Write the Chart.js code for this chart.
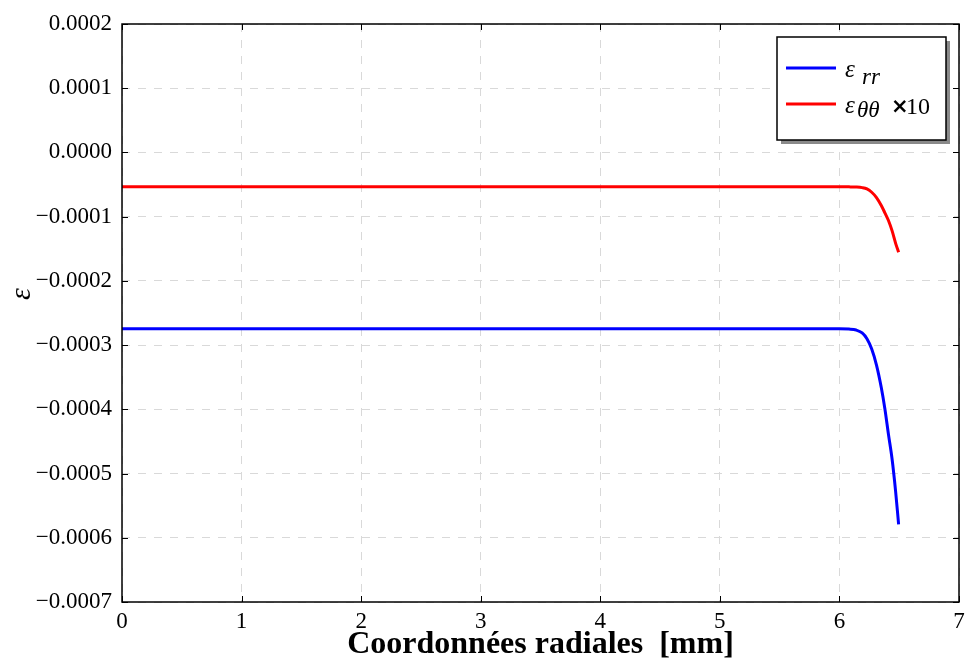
<!DOCTYPE html>
<html>
<head>
<meta charset="utf-8">
<script src="https://cdn.jsdelivr.net/npm/chart.js@4"></script>
<style>
  html, body { margin: 0; padding: 0; background: #fff; }
  #wrap { width: 965px; height: 661px; }
</style>
</head>
<body>
<div id="wrap"><canvas id="c" width="965" height="661"></canvas></div>
<script>
// ---- data ----
const radialMm = [0, 6.0, 6.08, 6.14, 6.19, 6.23, 6.27, 6.31, 6.35, 6.38, 6.41, 6.44, 6.47, 6.495];
const epsRR    = [-0.0002746, -0.0002746, -0.000275, -0.0002765, -0.000281, -0.000290, -0.000306, -0.000331, -0.000366, -0.000399, -0.000439, -0.000477, -0.000528, -0.000579];
const epsTTx10 = [-0.0000535, -0.0000535, -0.0000536, -0.0000539, -0.0000548, -0.0000568, -0.0000620, -0.0000703, -0.0000826, -0.0000940, -0.0001060, -0.0001218, -0.0001415, -0.0001553];
const xTicks = [0, 1, 2, 3, 4, 5, 6, 7];
const yTicks = [0.0002, 0.0001, 0, -0.0001, -0.0002, -0.0003, -0.0004, -0.0005, -0.0006, -0.0007];
const seriesLabels = ['rr', 'θθ'];
const xTitle = 'Coordonnées radiales  [mm]';
const yTitle = 'ε';

const SERIF = '"Liberation Serif", "Times New Roman", serif';

function fmtY(v) {
  if (Math.abs(v) < 1e-12) v = 0;
  const s = Math.abs(v).toFixed(4);
  return (v < 0 ? '\u2212' : '') + s;
}

const framePlugin = {
  id: 'frame',
  afterDatasetsDraw(chart) {
    const ctx = chart.ctx, a = chart.chartArea;
    const xs = chart.scales.x, ys = chart.scales.y;
    ctx.save();
    ctx.strokeStyle = '#000';
    ctx.lineWidth = 1.5;
    ctx.setLineDash([]);
    ctx.strokeRect(a.left, a.top, a.right - a.left, a.bottom - a.top);
    // inward ticks
    ctx.lineWidth = 1;
    const L = 6;
    ctx.beginPath();
    xTicks.forEach(v => {
      const px = Math.round(xs.getPixelForValue(v)) + 0.5;
      ctx.moveTo(px, a.bottom); ctx.lineTo(px, a.bottom - L);
      ctx.moveTo(px, a.top); ctx.lineTo(px, a.top + L);
    });
    yTicks.forEach(v => {
      const py = Math.round(ys.getPixelForValue(v)) + 0.5;
      ctx.moveTo(a.left, py); ctx.lineTo(a.left + L, py);
      ctx.moveTo(a.right, py); ctx.lineTo(a.right - L, py);
    });
    ctx.stroke();
    ctx.restore();
  },
  afterDraw(chart) {
    const ctx = chart.ctx;
    const ds = chart.data.datasets;
    ctx.save();
    // y-axis title (rotated epsilon)
    ctx.fillStyle = '#000';
    ctx.translate(22, 294);
    ctx.rotate(-Math.PI / 2);
    ctx.font = 'italic 30px ' + SERIF;
    ctx.textAlign = 'center';
    ctx.textBaseline = 'middle';
    ctx.fillText(yTitle, 0, 0);
    ctx.restore();

    ctx.save();
    const bx = 777, by = 37, bw = 169, bh = 103;
    ctx.fillStyle = '#8a8a8a';
    ctx.fillRect(bx + 4, by + 4, bw, bh);
    ctx.fillStyle = '#fff';
    ctx.fillRect(bx, by, bw, bh);
    ctx.strokeStyle = '#000';
    ctx.lineWidth = 1.5;
    ctx.strokeRect(bx, by, bw, bh);
    const rows = [68, 104];
    rows.forEach((y, i) => {
      ctx.strokeStyle = ds[i].borderColor;
      ctx.lineWidth = 3;
      ctx.beginPath();
      ctx.moveTo(786, y); ctx.lineTo(836, y);
      ctx.stroke();
      ctx.fillStyle = '#000';
      ctx.textBaseline = 'alphabetic';
      ctx.font = 'italic 25px ' + SERIF;
      ctx.fillText('ε', 845, y + 9);
      ctx.font = 'italic 23px ' + SERIF;
      ctx.fillText(seriesLabels[i], i === 0 ? 862 : 857, y + (i === 0 ? 16 : 13));
    });
    ctx.font = 'bold 21px "DejaVu Sans", sans-serif';
    ctx.fillText('×', 891, 113);
    ctx.font = '24px ' + SERIF;
    ctx.fillText('10', 906, 114);
    ctx.restore();
  }
};

const gridStyle = {
  color: '#d9d9d9',
  lineWidth: 1,
  drawTicks: false
};

new Chart(document.getElementById('c'), {
  type: 'line',
  data: {
    datasets: [
      {
        label: 'ε rr',
        data: radialMm.map((x, i) => ({ x: x, y: epsRR[i] })),
        borderColor: '#0000ff',
        borderWidth: 3,
        pointRadius: 0,
        cubicInterpolationMode: 'monotone',
        fill: false
      },
      {
        label: 'ε θθ ×10',
        data: radialMm.map((x, i) => ({ x: x, y: epsTTx10[i] })),
        borderColor: '#ff0000',
        borderWidth: 3,
        pointRadius: 0,
        cubicInterpolationMode: 'monotone',
        fill: false
      }
    ]
  },
  options: {
    responsive: false,
    animation: false,
    devicePixelRatio: 1,
    layout: { padding: { left: 0, right: 6, top: 24, bottom: 0 } },
    plugins: {
      legend: { display: false },
      tooltip: { enabled: false }
    },
    scales: {
      x: {
        type: 'linear',
        min: 0, max: 7,
        afterBuildTicks(scale) { scale.ticks = xTicks.map(v => ({ value: v })); },
        afterFit(scale) { scale.height = 59; scale.paddingLeft = 0; scale.paddingRight = 0; },
        grid: Object.assign({}, gridStyle),
        border: { display: false, dash: [8, 8] },
        ticks: {
          color: '#000',
          font: { family: SERIF, size: 23 },
          padding: 6,
          maxRotation: 0,
          callback: v => String(v)
        },
        title: {
          display: true,
          text: xTitle,
          color: '#000',
          font: { family: SERIF, size: 32, weight: 'bold', lineHeight: 1.0 },
          padding: { top: 0, bottom: 0 }
        }
      },
      y: {
        type: 'linear',
        min: -0.0007, max: 0.0002,
        afterBuildTicks(scale) { scale.ticks = yTicks.map(v => ({ value: v })); },
        afterFit(scale) { scale.width = 122; scale.paddingTop = 0; scale.paddingBottom = 0; },
        grid: Object.assign({}, gridStyle),
        border: { display: false, dash: [8, 8] },
        ticks: {
          color: '#000',
          font: { family: SERIF, size: 23 },
          padding: 10,
          callback: v => fmtY(v)
        },
        title: { display: false }
      }
    }
  },
  plugins: [framePlugin]
});
</script>
</body>
</html>
